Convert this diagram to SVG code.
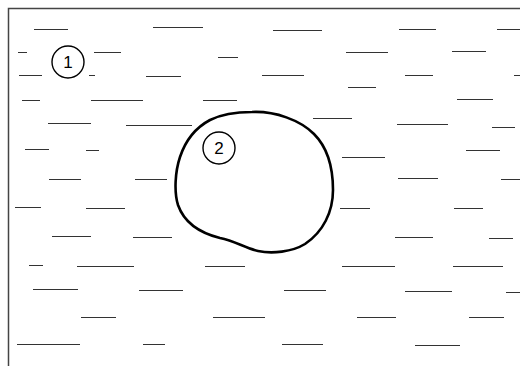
<svg xmlns="http://www.w3.org/2000/svg" width="520" height="366" viewBox="0 0 520 366">
<style>
.frame{fill:none;stroke:#444;stroke-width:1.5}
.d{stroke:#333;stroke-width:1.1;fill:none}
.blob{fill:none;stroke:#000;stroke-width:2.6;stroke-linejoin:round}
.lbl circle{fill:#fff;stroke:#000;stroke-width:1.4}
.lbl text{font-family:"Liberation Sans",Arial,sans-serif;font-size:17px;fill:#000;text-anchor:middle}
</style>
<rect width="520" height="366" fill="#fff"/>
<path class="frame" d="M8.5 366 V8.5 H520"/>
<g id="dashes">
<path class="d" d="M34 29.5H68 M153 27.5H203 M273 30.5H322 M399 29.5H436 M497 29.5H520
M18 52.5H27 M94 52.5H121 M346 52.5H388 M452 51.5H486 M218 57.5H238
M19 75.5H42 M89 75.5H95 M146 76.5H181 M262 75.5H304 M405 75.5H433 M514 75.5H520
M348 87.5H376
M22 100.5H40 M91 100.5H143 M203 100.5H237 M457 99.5H493
M313 118.5H352
M48 123.5H91 M126 125.5H192 M397 124.5H448 M492 127.5H515
M25 149.5H49 M86 150.5H99 M466 150.5H500
M342 157.5H385
M49 179.5H81 M135 179.5H167 M398 178.5H438 M501 179.5H520
M15 207.5H41 M86 208.5H125 M340 208.5H370 M454 208.5H483
M52 236.5H91 M133 237.5H172 M395 237.5H433 M489 238.5H513
M29 265.5H43 M77 266.5H134 M205 266.5H245 M342 266.5H395 M453 266.5H503
M33 289.5H78 M139 290.5H183 M284 290.5H326 M405 291.5H452 M506 292.5H520
M81 317.5H116 M213 317.5H265 M357 317.5H396 M469 317.5H504
M17 344.5H80 M143 344.5H165 M282 344.5H323 M415 345.5H460"/>
</g>
<g id="region2">
<path class="blob" d="M252 112 C275 111,300 120,314 134 C326 146,333 165,333 190 C333 212,323 232,305 244 C292 252,272 254,258 251 C245 248,235 241,220 238 C200 233,184 222,178 205 C174 192,175 172,180 157 C185 142,195 128,210 120 C222 114,237 112,252 112 Z"/>
</g>
<g id="label1" class="lbl">
<circle cx="68" cy="62" r="16"/>
<text x="68" y="68">1</text>
</g>
<g id="label2" class="lbl">
<circle cx="219" cy="148" r="16"/>
<text x="219" y="154">2</text>
</g>
</svg>
